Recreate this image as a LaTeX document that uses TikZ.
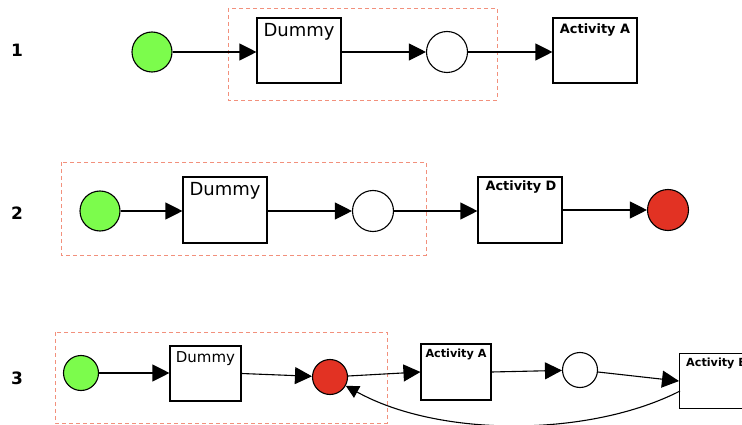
\documentclass[tikz,border=0pt]{standalone}
\usepackage{fontspec}
\setmainfont{DejaVu Sans}
\usetikzlibrary{arrows.meta}
\definecolor{startgreen}{HTML}{7CFC4C}
\definecolor{endred}{HTML}{E23223}
\definecolor{groupline}{HTML}{F2907C}
\tikzset{
  flow/.style={draw=black, line width=1.1pt, -{Triangle[length=17pt,width=17pt]}},
  back/.style={draw=black, line width=1.1pt, -{Triangle[length=13pt,width=13pt]}},
  event/.style={circle, draw=black, line width=1.1pt, inner sep=0pt, minimum size=#1},
  startev/.style={event=#1, fill=startgreen},
  endev/.style={event=#1, fill=endred},
  midev/.style={event=#1, fill=white},
  task/.style n args={2}{rectangle, draw=black, line width=1.1pt, fill=white,
    minimum width=#1, minimum height=#2, inner sep=0pt},
  group/.style={draw=groupline, line width=0.8pt, dash pattern=on 4pt off 3pt},
  rowno/.style={font=\bfseries\fontsize{17}{19}\selectfont, anchor=base},
  tasklabel/.style={anchor=base, inner sep=0pt},
  actlabel/.style={anchor=base, inner sep=0pt, font=\bfseries\fontsize{#1}{#1}\selectfont}
}
\begin{document}
\begin{tikzpicture}[x=1pt, y=-1pt]
\useasboundingbox (0,0) rectangle (742,425);
\clip (0,0) rectangle (742,425);

% ---- row 1 ----
\node[rowno] (n1) at (17,57) {1};
\draw[group] (228,8) rectangle (497,100);
\node[startev=40pt] (g1) at (152,52) {};
\node[task={84pt}{65pt}] (d1) at (299,50.5) {};
\node[tasklabel, font=\fontsize{18}{20}\selectfont] (d1t) at (299,37) {Dummy};
\node[midev=41pt] (c1) at (447,52) {};
\node[task={84pt}{65pt}] (a1) at (595,50.5) {};
\node[actlabel=12.9] (a1t) at (595,34) {Activity A};
\draw[flow] (g1) -- (d1.west |- g1);
\draw[flow] (d1.east |- c1) -- (c1);
\draw[flow] (c1) -- (a1.west |- c1);

% ---- row 2 ----
\node[rowno] (n2) at (17,219) {2};
\draw[group] (61,162) rectangle (426,255);
\node[startev=40pt] (g2) at (100,211) {};
\node[task={84pt}{66pt}] (d2) at (225,210) {};
\node[tasklabel, font=\fontsize{18}{20}\selectfont] (d2t) at (225,196) {Dummy};
\node[midev=41pt] (c2) at (373,211) {};
\node[task={84pt}{66pt}] (a2) at (520,210) {};
\node[actlabel=12.9] (a2t) at (521,190) {Activity D};
\node[endev=41pt] (r2) at (668,210) {};
\draw[flow] (g2) -- (d2.west |- g2);
\draw[flow] (d2.east |- c2) -- (c2);
\draw[flow] (c2) -- (a2.west |- c2);
\draw[flow] (a2.east |- r2) -- (r2);

% ---- row 3 ----
\node[rowno] (n3) at (17,384) {3};
\draw[group] (55,332) rectangle (387,423);
\node[startev=35pt] (g3) at (81,373) {};
\node[task={71pt}{55pt}] (d3) at (205.5,373.5) {};
\node[tasklabel, font=\fontsize{15}{17}\selectfont] (d3t) at (205.5,362) {Dummy};
\node[endev=35pt] (r3) at (330,377) {};
\node[task={70pt}{56pt}] (a3) at (456,372) {};
\node[actlabel=11.2] (a3t) at (456,357) {Activity A};
\node[midev=35pt] (c3) at (580,370) {};
\node[task={70pt}{55pt}, anchor=north west] (b3) at (679,353) {};
\node[actlabel=11.2, anchor=base west] (b3t) at (686,366) {Activity B};
\coordinate (bout) at (680,391);
\draw[flow] (g3) -- (d3.west |- g3);
\draw[flow] (d3.east) -- (r3);
\draw[flow] (r3) -- (a3.west);
\draw[flow] (a3.east) -- (c3);
\draw[flow] (c3) -- (b3.west);
\draw[back] (bout) .. controls (590,437) and (440,438) .. (r3);
\end{tikzpicture}
\end{document}
